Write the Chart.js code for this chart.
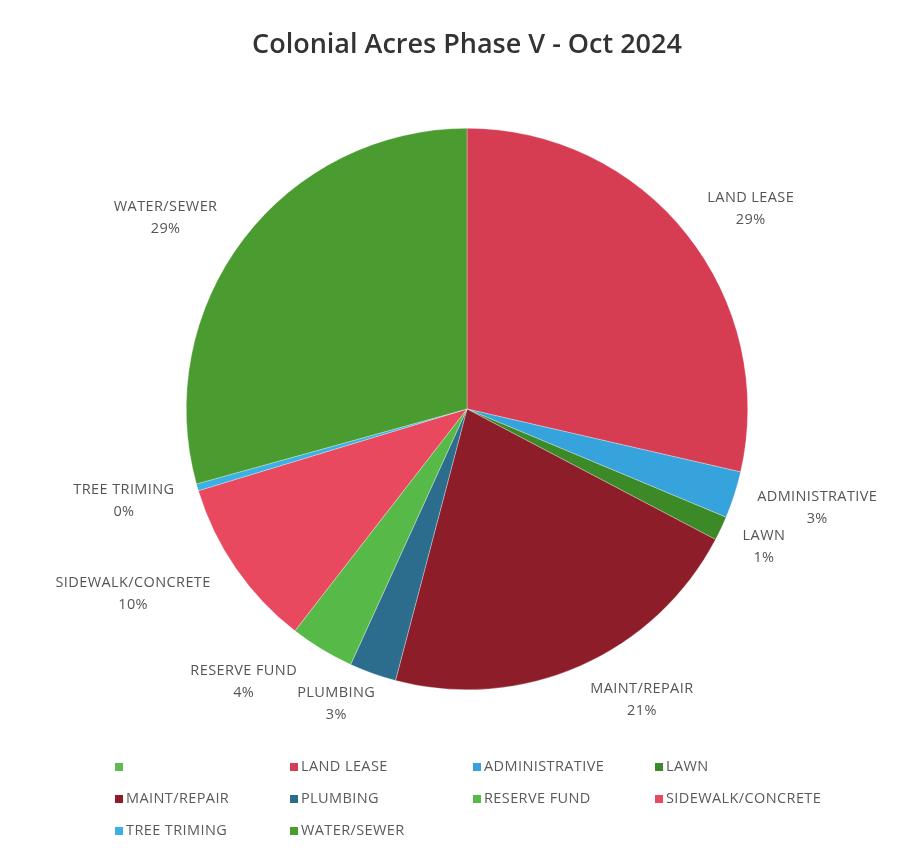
<!DOCTYPE html>
<html lang="en">
<head>
<meta charset="UTF-8">
<title>Colonial Acres Phase V - Oct 2024</title>
<script src="https://cdn.jsdelivr.net/npm/chart.js"></script>
<style>
    html, body { margin: 0; padding: 0; background: #fff; }
    #wrap { position: relative; width: 920px; height: 851px; }
    #pieChart { position: absolute; left: 0; top: 0; }
    #legend { position: absolute; left: 0; top: 0; width: 920px; height: 851px; pointer-events: none;
              font-family: "Open Sans", sans-serif; font-size: 14.5px; letter-spacing: 0.4px; color: #5a5a5a; }
    .lg-item { position: absolute; white-space: nowrap; line-height: 16px; }
    .lg-box { display: inline-block; width: 8px; height: 8px; margin-right: 3px; vertical-align: 0px; }
</style>
</head>
<body>
<div id="wrap">
    <canvas id="pieChart" width="920" height="851"></canvas>
    <div id="legend"></div>
</div>

<script>
// categories and values (percent of total)
const categories = ['', 'LAND LEASE', 'ADMINISTRATIVE', 'LAWN', 'MAINT/REPAIR', 'PLUMBING',
                    'RESERVE FUND', 'SIDEWALK/CONCRETE', 'TREE TRIMING', 'WATER/SEWER'];
const values = [0, 28.6, 2.7, 1.4, 21.4, 2.7, 3.7, 9.8, 0.4, 29.3];
const colors = ['#62b94f', '#d63c52', '#36a3dc', '#3b8a27', '#8c1d29', '#2c6d8d',
                '#57b947', '#e9495f', '#3bb0e4', '#4a9c31'];

// small label nudges (dx, dy) so they sit where the original put them
const labelNudge = [[0, 0], [14, 15], [22, -7], [-15, -9], [36, -25], [-15, -30],
                    [-45, -22], [-50, -11], [-12, -4], [-27, 18]];

// legend grid (4 columns)
const legendCols = [115, 290, 473, 655];
const legendRows = [758, 790, 822];

const outsideLabels = {
    id: 'outsideLabels',
    afterDatasetsDraw(chart) {
        const ctx = chart.ctx;
        const meta = chart.getDatasetMeta(0);
        const data = chart.data.datasets[0].data;
        const total = data.reduce((a, b) => a + b, 0);
        ctx.save();
        ctx.font = '14.5px "Open Sans", sans-serif';
        ctx.letterSpacing = '0.4px';
        ctx.fillStyle = '#555';
        ctx.textAlign = 'center';
        ctx.textBaseline = 'middle';
        meta.data.forEach((arc, i) => {
            if (!data[i]) return;
            const p = arc.getProps(['x', 'y', 'startAngle', 'endAngle', 'outerRadius'], true);
            const mid = (p.startAngle + p.endAngle) / 2;
            const r = p.outerRadius + 64;
            const x = p.x + Math.cos(mid) * r + labelNudge[i][0];
            const y = p.y + Math.sin(mid) * r + labelNudge[i][1];
            ctx.fillText(chart.data.labels[i], x, y - 11);
            ctx.fillText(Math.round(data[i] / total * 100) + '%', x, y + 11);
        });
        ctx.restore();
    }
};

const chart = new Chart(document.getElementById('pieChart'), {
    type: 'pie',
    data: {
        labels: categories,
        datasets: [{
            data: values,
            backgroundColor: colors,
            borderColor: 'rgba(255,255,255,0.6)',
            borderWidth: 0.5
        }]
    },
    options: {
        responsive: false,
        animation: false,
        layout: { padding: { left: 186, right: 172, top: 0, bottom: 161 } },
        plugins: {
            legend: { display: false },
            tooltip: { enabled: false },
            title: {
                display: true,
                text: 'Colonial Acres Phase V - Oct 2024',
                color: '#333',
                font: { family: '"Open Sans", sans-serif', size: 27, weight: '600' },
                padding: { top: 29, bottom: 66.6 }
            }
        }
    },
    plugins: [outsideLabels]
});

// html legend in fixed columns
const items = Chart.overrides.pie.plugins.legend.labels.generateLabels(chart);
const legendEl = document.getElementById('legend');
items.forEach((item, i) => {
    const div = document.createElement('div');
    div.className = 'lg-item';
    div.style.left = legendCols[i % 4] + 'px';
    div.style.top = legendRows[Math.floor(i / 4)] + 'px';
    div.innerHTML = '<span class="lg-box" style="background:' + item.fillStyle + '"></span>' + item.text;
    legendEl.appendChild(div);
});
</script>
</body>
</html>
